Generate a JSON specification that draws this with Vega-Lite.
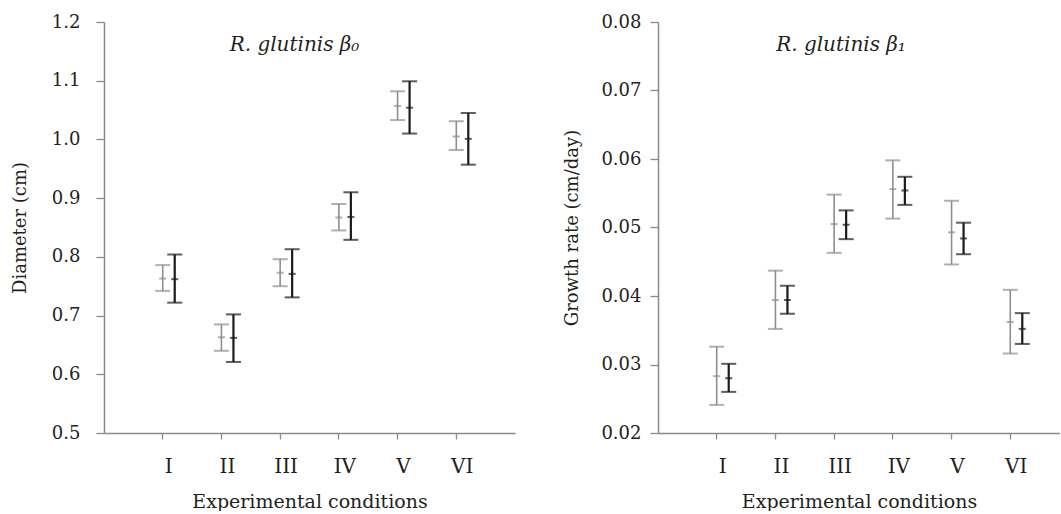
{
  "$schema": "https://vega.github.io/schema/vega-lite/v6.json",
  "padding": {"left": 11, "top": 13, "right": 0, "bottom": 0},
  "spacing": 48,
  "datasets": {
    "diameter": [
      {"cond": 1, "series": "gray", "mean": 0.763, "lo": 0.742, "hi": 0.786},
      {"cond": 1, "series": "black", "mean": 0.762, "lo": 0.722, "hi": 0.804},
      {"cond": 2, "series": "gray", "mean": 0.663, "lo": 0.640, "hi": 0.685},
      {"cond": 2, "series": "black", "mean": 0.662, "lo": 0.621, "hi": 0.702},
      {"cond": 3, "series": "gray", "mean": 0.773, "lo": 0.750, "hi": 0.796},
      {"cond": 3, "series": "black", "mean": 0.771, "lo": 0.731, "hi": 0.813},
      {"cond": 4, "series": "gray", "mean": 0.867, "lo": 0.845, "hi": 0.890},
      {"cond": 4, "series": "black", "mean": 0.868, "lo": 0.829, "hi": 0.910},
      {"cond": 5, "series": "gray", "mean": 1.057, "lo": 1.033, "hi": 1.082},
      {"cond": 5, "series": "black", "mean": 1.054, "lo": 1.010, "hi": 1.099},
      {"cond": 6, "series": "gray", "mean": 1.005, "lo": 0.982, "hi": 1.031},
      {"cond": 6, "series": "black", "mean": 1.001, "lo": 0.957, "hi": 1.045}
    ],
    "growth": [
      {"cond": 1, "series": "gray", "mean": 0.0283, "lo": 0.0241, "hi": 0.0326},
      {"cond": 1, "series": "black", "mean": 0.0280, "lo": 0.0260, "hi": 0.0301},
      {"cond": 2, "series": "gray", "mean": 0.0394, "lo": 0.0352, "hi": 0.0437},
      {"cond": 2, "series": "black", "mean": 0.0394, "lo": 0.0374, "hi": 0.0415},
      {"cond": 3, "series": "gray", "mean": 0.0505, "lo": 0.0463, "hi": 0.0548},
      {"cond": 3, "series": "black", "mean": 0.0504, "lo": 0.0483, "hi": 0.0525},
      {"cond": 4, "series": "gray", "mean": 0.0556, "lo": 0.0513, "hi": 0.0598},
      {"cond": 4, "series": "black", "mean": 0.0554, "lo": 0.0533, "hi": 0.0574},
      {"cond": 5, "series": "gray", "mean": 0.0493, "lo": 0.0446, "hi": 0.0539},
      {"cond": 5, "series": "black", "mean": 0.0484, "lo": 0.0461, "hi": 0.0507},
      {"cond": 6, "series": "gray", "mean": 0.0362, "lo": 0.0316, "hi": 0.0409},
      {"cond": 6, "series": "black", "mean": 0.0352, "lo": 0.0330, "hi": 0.0375}
    ]
  },
  "hconcat": [
    {
      "width": 411,
      "height": 411,
      "data": {"name": "diameter"},
      "title": {"text": "R. glutinis β₀", "fontStyle": "italic", "fontSize": 20, "font": "DejaVu Serif", "fontWeight": "normal", "color": "#231f20", "anchor": "middle", "baseline": "alphabetic", "offset": -28, "dy": 30, "dx": -15},
      "encoding": {
        "x": {"field": "cond", "type": "ordinal",
              "scale": {"domain": [1, 2, 3, 4, 5, 6], "paddingInner": 0.591, "paddingOuter": 0.7955, "align": 0.5643},
              "axis": {"title": "Experimental conditions", "titleFontSize": 19, "bandPosition": 0.25, "labelAngle": 0, "labelFontSize": 20, "labelExpr": "['', 'I', 'II', 'III', 'IV', 'V', 'VI', ''][datum.value]", "grid": false, "tickSize": 6, "labelPadding": 17, "titlePadding": 16}},
        "xOffset": {"field": "series", "scale": {"domain": ["gray", "black"], "paddingInner": 0, "paddingOuter": 0}},
        "color": {"field": "series", "scale": {"domain": ["gray", "black"], "range": ["#8e8e8e", "#1a1a1a"]}, "legend": null}
      },
      "layer": [
        {"mark": {"type": "rule"},
         "encoding": {"y": {"field": "lo", "type": "quantitative", "scale": {"domain": [0.5, 1.2], "nice": false},
                            "axis": {"title": "Diameter (cm)", "values": [0.5, 0.6, 0.7, 0.8, 0.9, 1.0, 1.1, 1.2], "format": ".1f", "grid": false, "tickSize": 8, "labelPadding": 16, "titlePadding": 22}},
                      "y2": {"field": "hi"},
                      "strokeWidth": {"field": "series", "scale": {"domain": ["gray", "black"], "range": [1.6, 2.2]}, "legend": null}}},
        {"mark": {"type": "tick", "orient": "horizontal", "size": 15, "thickness": 2}, "encoding": {"y": {"field": "hi", "type": "quantitative"}}},
        {"mark": {"type": "tick", "orient": "horizontal", "size": 15, "thickness": 2}, "encoding": {"y": {"field": "lo", "type": "quantitative"}}},
        {"mark": {"type": "tick", "orient": "horizontal", "size": 7, "thickness": 2}, "encoding": {"y": {"field": "mean", "type": "quantitative"}}}
      ]
    },
    {
      "width": 402,
      "height": 411,
      "data": {"name": "growth"},
      "title": {"text": "R. glutinis β₁", "fontStyle": "italic", "fontSize": 20, "font": "DejaVu Serif", "fontWeight": "normal", "color": "#231f20", "anchor": "middle", "baseline": "alphabetic", "offset": -28, "dy": 30, "dx": -18},
      "encoding": {
        "x": {"field": "cond", "type": "ordinal",
              "scale": {"domain": [1, 2, 3, 4, 5, 6], "paddingInner": 0.591, "paddingOuter": 0.719, "align": 0.6243},
              "axis": {"title": "Experimental conditions", "titleFontSize": 19, "bandPosition": 0.25, "labelAngle": 0, "labelFontSize": 20, "labelExpr": "['', 'I', 'II', 'III', 'IV', 'V', 'VI', ''][datum.value]", "grid": false, "tickSize": 6, "labelPadding": 17, "titlePadding": 16}},
        "xOffset": {"field": "series", "scale": {"domain": ["gray", "black"], "paddingInner": 0, "paddingOuter": 0}},
        "color": {"field": "series", "scale": {"domain": ["gray", "black"], "range": ["#8e8e8e", "#1a1a1a"]}, "legend": null}
      },
      "layer": [
        {"mark": {"type": "rule"},
         "encoding": {"y": {"field": "lo", "type": "quantitative", "scale": {"domain": [0.02, 0.08], "nice": false},
                            "axis": {"title": "Growth rate (cm/day)", "values": [0.02, 0.03, 0.04, 0.05, 0.06, 0.07, 0.08], "format": ".2f", "grid": false, "tickSize": 8, "labelPadding": 9, "titlePadding": 19}},
                      "y2": {"field": "hi"},
                      "strokeWidth": {"field": "series", "scale": {"domain": ["gray", "black"], "range": [1.6, 2.2]}, "legend": null}}},
        {"mark": {"type": "tick", "orient": "horizontal", "size": 15, "thickness": 2}, "encoding": {"y": {"field": "hi", "type": "quantitative"}}},
        {"mark": {"type": "tick", "orient": "horizontal", "size": 15, "thickness": 2}, "encoding": {"y": {"field": "lo", "type": "quantitative"}}},
        {"mark": {"type": "tick", "orient": "horizontal", "size": 7, "thickness": 2}, "encoding": {"y": {"field": "mean", "type": "quantitative"}}}
      ]
    }
  ],
  "config": {
    "view": {"stroke": null},
    "font": "DejaVu Serif",
    "axis": {
      "labelFont": "DejaVu Serif", "titleFont": "DejaVu Serif",
      "labelFontSize": 18, "titleFontSize": 18, "titleFontWeight": "normal",
      "labelColor": "#231f20", "titleColor": "#231f20",
      "domainColor": "#8a8a8a", "tickColor": "#8a8a8a", "domainWidth": 1.5, "tickWidth": 1.3
    }
  }
}
